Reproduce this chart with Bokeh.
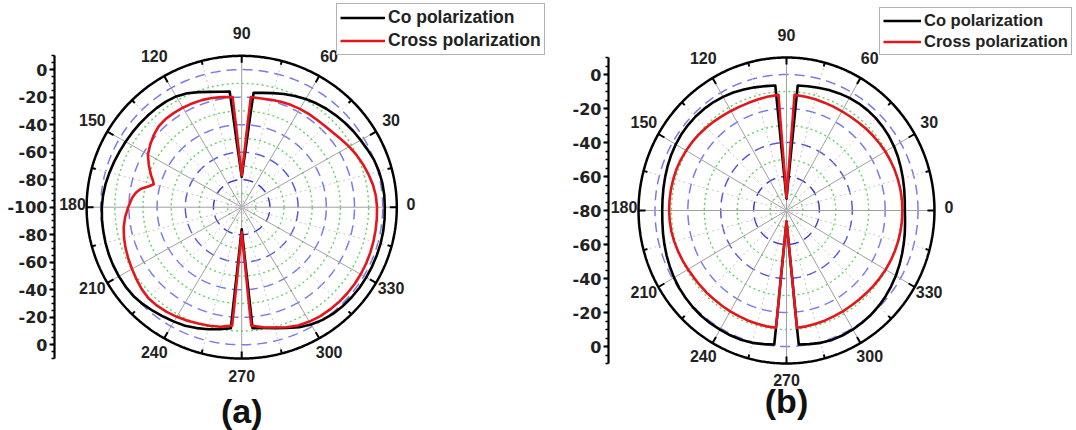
import numpy as np
from bokeh.plotting import figure
from bokeh.layouts import row
from bokeh.models import (Range1d, LinearAxis, FixedTicker, CustomJSTickFormatter,
                          Legend, LegendItem, Label)
from bokeh.core.properties import value
from bokeh.embed import file_html
from bokeh.resources import INLINE

FONT = "Liberation Sans"
AXFONT = "DejaVu Sans"

# ---------------- data: panel (a)  (angle in degrees, gain in dB) ----------------
a_co_angle = [0, 5, 10, 15, 20, 25, 30, 35, 40, 45, 50, 55, 60, 65, 70, 75, 80, 84.2,
              84.6, 85.1, 85.8, 87.2, 88.3, 90, 91.7, 92.8, 94.2, 94.9, 95.4, 95.8,
              100, 105, 110, 115, 120, 125, 130, 135, 140, 145, 150, 155, 160, 165, 170, 175,
              180, 185, 190, 195, 200, 205, 210, 215, 220, 225, 230, 235, 240, 245, 250, 255,
              260, 265, 265.2, 265.5, 266.1, 267.1, 268.1, 270, 271.9, 272.9, 273.9, 274.5,
              274.8, 275, 280, 285, 290, 295, 300, 305, 310, 315, 320, 325, 330, 335, 340, 345,
              350, 355, 360]
a_co_db = [1.5, 1.5, 1.3, 0.8, 0, -1.4, -2.6, -3.5, -4.5, -5.6, -6.6, -7.8, -9.2, -10.8, -12.5,
           -14.2, -15.6, -16.5,
           -28, -40.5, -53, -65.5, -72, -78, -72, -65.5, -53, -40.5, -28, -15.5,
           -14.8, -13.2, -11, -8.6, -7, -6.3, -6, -5.8, -5.6, -5.3, -4.9, -4.4, -3.7, -2.9, -2,
           -1.3, -0.8, -0.5, -0.3, 0, 0.3, 0.5, 0.6, 0.6, 0.3, -0.6, -1.8, -3, -4, -5, -6.5, -8.2,
           -10, -11.7, -26, -40.5, -55, -69.5, -77, -84, -77, -69.5, -55, -40.5,
           -26, -11.7, -10.8, -9, -6.6, -3.8, -1.6, 0, 1, 1.5, 1.8, 2, 2, 2, 2, 2,
           1.9, 1.7, 1.5]
a_cross_angle = [0, 5, 10, 15, 20, 25, 30, 35, 40, 45, 50, 55, 60, 65, 70, 75, 80, 85.4,
                 85.7, 86.2, 86.8, 87.9, 88.7, 90, 91.3, 92.1, 93.2, 93.8, 94.3, 94.6,
                 100, 105, 110, 115, 120, 125, 130, 135, 140, 145, 150, 155, 160, 163, 165, 167,
                 169.5, 172, 175, 180, 185, 190, 195, 200, 205, 210, 215, 220, 225, 230, 235,
                 240, 245, 250, 255, 260, 265.5, 265.8, 266.1, 266.6, 267.6, 268.5, 270, 271.5,
                 272.4, 273.4, 273.9, 274.2, 274.5, 280, 285, 290, 295, 300, 305, 310, 315, 320,
                 325, 330, 335, 340, 345, 350, 355, 360]
a_cross_db = [-4, -4.5, -5.5, -7, -8.5, -10.2, -12, -14, -15.6, -16.5, -17, -17.2, -17.5, -17.9,
              -18.5, -19.2, -19.8, -19.7,
              -31, -42.5, -54, -65.5, -71, -77, -71, -65.5, -54, -42.5, -31, -19.7,
              -18.8, -17.8, -17.2, -16.8, -16.5, -16.3, -16.2, -16.8, -18.5, -20.8, -23.2, -27.3,
              -31.5, -34.2, -35.4, -32.5, -27, -24.2, -22, -19.5, -17, -15, -13.6, -12.4, -11.3,
              -10.2, -8.8, -7.4, -6.5, -6.6, -7.2, -8, -9, -10, -10.8, -11.8, -13.7, -27.5, -41,
              -54.5, -68.5, -75, -82, -75, -68.5, -54.5, -41, -27.5, -13.7, -11.3, -9.5, -7.2,
              -5.2, -4, -3.2, -2.8, -2.5, -2.4, -2.4, -2.5, -2.7, -3, -3.3, -3.6, -3.8, -4]

# ---------------- data: panel (b) ----------------
b_co_angle = [0, 5, 10, 15, 20, 25, 30, 35, 40, 45, 50, 55, 60, 65, 70, 75, 80, 84.7,
              84.9, 85.2, 85.9, 87.1, 90, 92.9, 94.1, 94.8, 95.1, 95.3,
              100, 105, 110, 115, 120, 125, 130, 135, 140, 145, 150, 155, 160, 165, 170, 175,
              180, 185, 190, 195, 200, 205, 210, 215, 220, 225, 230, 235, 240, 245, 250, 255,
              260, 264.6, 264.8, 265, 265.7, 266.9, 270, 273.1, 274.3, 275, 275.2, 275.4,
              280, 285, 290, 295, 300, 305, 310, 315, 320, 325, 330, 335, 340, 345, 350, 355, 360]
b_co_db = [-8, -7.8, -7.3, -6.7, -6, -5.2, -4.5, -3.9, -3.5, -3.2, -3.1, -3.2, -3.5, -4, -4.6,
           -5.3, -5.8, -6.2,
           -22.9, -39.6, -56.3, -66.3, -73, -66.3, -56.3, -39.6, -22.9, -6.2,
           -5.7, -5, -4.2, -3.4, -2.8, -2.3, -2, -1.8, -1.8, -1.9, -2.2, -2.6, -3.1, -3.6, -4,
           -4.3, -4.4, -4.2, -3.7, -3.1, -2.4, -1.7, -1, -0.4, 0.1, 0.5, 0.8, 0.9, 0.9, 1, 0.9,
           0.6, -0.2, -0.8, -19, -37.1, -55.3, -66.2, -73.5, -66.2, -55.3, -37.1, -19, -0.8,
           -0.2, 0.6, 1, 1, 0.8, 0.4, 0, -0.6, -1.4, -2.3, -3.2, -4.2, -5.2, -6.1, -6.9, -7.6,
           -8]
b_cross_angle = [0, 5, 10, 15, 20, 25, 30, 35, 40, 45, 50, 55, 60, 65, 70, 75, 80, 85.9,
                 86, 86.3, 87, 87.9, 90, 92.1, 93, 93.7, 94, 94.1,
                 100, 105, 110, 115, 120, 125, 130, 135, 140, 145, 150, 155, 160, 165, 170, 175,
                 180, 185, 190, 195, 200, 205, 210, 215, 220, 225, 230, 235, 240, 245, 250, 255,
                 260, 264.7, 264.9, 265.1, 265.8, 267.1, 270, 272.9, 274.2, 274.9, 275.1, 275.3,
                 280, 285, 290, 295, 300, 305, 310, 315, 320, 325, 330, 335, 340, 345, 350, 355,
                 360]
b_cross_db = [-9.5, -9.5, -9.6, -9.8, -10, -10.3, -10.6, -11, -11.4, -11.8, -12.2, -12.5, -12.6,
              -12.6, -12.5, -12.3, -12.1, -11.8,
              -27, -42.2, -57.4, -66.4, -72.5, -66.4, -57.4, -42.2, -27, -11.8,
              -12.1, -12.4, -12.6, -12.6, -12.4, -12, -11.5, -11, -10.4, -9.9, -9.5, -9.1, -8.8,
              -8.7, -8.6, -8.6, -8.6, -8.7, -8.9, -9.3, -9.8, -10.3, -10.8, -11.2, -11.4, -11.5,
              -11.6, -11.6, -11.5, -11.4, -11.2, -11, -10.8, -10.7, -26.4, -42.2, -57.9, -67.4,
              -73.6, -67.4, -57.9, -42.2, -26.4, -10.7, -10.8, -11, -11.2, -11.4, -11.5, -11.6,
              -11.5, -11.3, -11, -10.7, -10.4, -10.1, -9.9, -9.7, -9.6, -9.5, -9.5]

# ---------------- axis / labels ----------------
angle_ticks = list(range(0, 360, 30))
angle_tick_labels = [str(a) for a in angle_ticks]
a_radial_ticks = [0, -20, -40, -60, -80, -100]
b_radial_ticks = [0, -20, -40, -60, -80]
series_names = ["Co polarization", "Cross polarization"]
panel_titles = ["(a)", "(b)"]

H = 430


def polar_xy(angles, dbs, floor):
    th = np.radians(np.asarray(angles, dtype=float))
    r = np.clip(np.asarray(dbs, dtype=float) - floor, 0, None)
    return r * np.cos(th), r * np.sin(th)


def make_panel(co_ang, co_db, cr_ang, cr_db, radial_ticks, title, W, border_left,
               cx, cy, sx, sy, label_r, legend_loc, glyph_w, legend_fs, title_y):
    floor = min(radial_ticks)
    top_db = 10
    R = top_db - floor
    x0 = -(cx - border_left) / sx
    x1 = (W - cx) / sx
    y1 = cy / sy
    y0 = -(H - cy) / sy
    p = figure(width=W, height=H, output_backend="svg", toolbar_location=None,
               x_range=Range1d(x0, x1), y_range=Range1d(y0, y1),
               x_axis_type=None, y_axis_type=None,
               min_border_left=border_left, min_border_right=0,
               min_border_top=0, min_border_bottom=0)
    p.outline_line_color = None
    p.background_fill_color = "white"
    p.border_fill_color = "white"

    th = np.linspace(0, 2 * np.pi, 721)
    major_r = sorted(t - floor for t in radial_ticks if t != floor)
    minor_r = [m - 10 for m in major_r]
    for mr in minor_r:
        p.line(mr * np.cos(th), mr * np.sin(th), line_color="#5fd35f", line_width=1.4,
               line_dash="2 3")
    for mr in major_r:
        frac = mr / max(major_r)
        col = "#3d3dbd" if frac < 0.3 else ("#5a5ad6" if frac < 0.6 else "#7b7be6")
        p.line(mr * np.cos(th), mr * np.sin(th), line_color=col, line_width=1.5,
               line_dash="10 6")
    # spokes
    for a in range(0, 360, 15):
        t = np.radians(a)
        if a % 30 == 0:
            p.line([0, R * np.cos(t)], [0, R * np.sin(t)], line_color="#a0a0a0", line_width=1)
        else:
            p.line([0, R * np.cos(t)], [0, R * np.sin(t)], line_color="#c8c8c8", line_width=1,
                   line_dash="2 3")
    # outer circle + ticks
    p.line(R * np.cos(th), R * np.sin(th), line_color="black", line_width=2.5)
    for a in range(0, 360, 15):
        t = np.radians(a)
        L = 7.0 if a % 30 == 0 else 4.0
        c, s = np.cos(t), np.sin(t)
        p.line([R * c, R * c - L / sx * c], [R * s, R * s - L / sy * s],
               line_color="black", line_width=2)

    # data
    xc, yc = polar_xy(co_ang, co_db, floor)
    xr, yr = polar_xy(cr_ang, cr_db, floor)
    r_co = p.line(xc, yc, line_color="black", line_width=2.6, line_join="round")
    r_cr = p.line(xr, yr, line_color="#e3161b", line_width=2.6, line_join="round")

    # angle labels
    lx, ly = [], []
    for a in angle_ticks:
        t = np.radians(a)
        rr = label_r[0] + label_r[1] * abs(np.sin(t))
        lx.append(rr * np.cos(t))
        ly.append(rr * np.sin(t) + label_r[2] / sy)
    p.text(lx, ly, text=angle_tick_labels, text_align="center", text_baseline="middle",
           text_font=value(FONT), text_font_style="bold", text_font_size="16px",
           text_color="#222222")

    # radial axis on the left
    ticks = sorted(set([t - floor for t in radial_ticks] + [-(t - floor) for t in radial_ticks]))
    minors = list(np.arange(-R, R + 0.1, 5))
    ax = LinearAxis(ticker=FixedTicker(ticks=ticks, minor_ticks=minors),
                    formatter=CustomJSTickFormatter(
                        code="return String(Math.round(Math.abs(tick) - %d));" % (-floor)),
                    bounds=(-R, R))
    ax.axis_line_width = 2.2
    ax.axis_line_color = "black"
    ax.major_tick_out = 5
    ax.major_tick_in = 0
    ax.minor_tick_out = 3
    ax.minor_tick_in = 0
    ax.major_tick_line_width = 2
    ax.minor_tick_line_width = 1.5
    ax.major_label_standoff = 2
    ax.major_label_text_font = AXFONT
    ax.major_label_text_font_style = "bold"
    ax.major_label_text_font_size = "16px"
    ax.major_label_text_color = "#222222"
    p.add_layout(ax, "left")

    legend = Legend(items=[LegendItem(label=series_names[0], renderers=[r_co]),
                           LegendItem(label=series_names[1], renderers=[r_cr])],
                    location=legend_loc)
    legend.glyph_width = glyph_w
    legend.glyph_height = 19
    legend.label_height = 19
    legend.label_standoff = 3
    legend.spacing = 2
    legend.padding = 3
    legend.margin = 0
    legend.label_text_font = FONT
    legend.label_text_font_style = "bold"
    legend.label_text_font_size = legend_fs
    legend.label_text_color = "#222222"
    legend.border_line_color = "#666666"
    legend.border_line_width = 1.5
    p.add_layout(legend)

    p.add_layout(Label(x=0, y=title_y, text=title, text_align="center",
                       text_baseline="middle", text_font=FONT, text_font_style="bold",
                       text_font_size="34px", text_color="#111111"))
    return p


WA = 560
pa = make_panel(a_co_angle, a_co_db, a_cross_angle, a_cross_db, a_radial_ticks, panel_titles[0],
                W=WA, border_left=54, cx=241.2, cy=206.7, sx=1.41, sy=1.376,
                label_r=(120, 4.6, 3), legend_loc=(282, 375), glyph_w=45, legend_fs="17.5px",
                title_y=-(410 - 206.7) / 1.376)
pb = make_panel(b_co_angle, b_co_db, b_cross_angle, b_cross_db, b_radial_ticks, panel_titles[1],
                W=1076 - WA, border_left=608 - WA, cx=786 - WA, cy=210, sx=1.644, sy=1.70,
                label_r=(98.8, 2.8, 3.2), legend_loc=(271, 375), glyph_w=38, legend_fs="16.5px",
                title_y=-(400 - 210) / 1.70)

layout = row(pa, pb)
open("out.html", "w").write(file_html(layout, INLINE))
